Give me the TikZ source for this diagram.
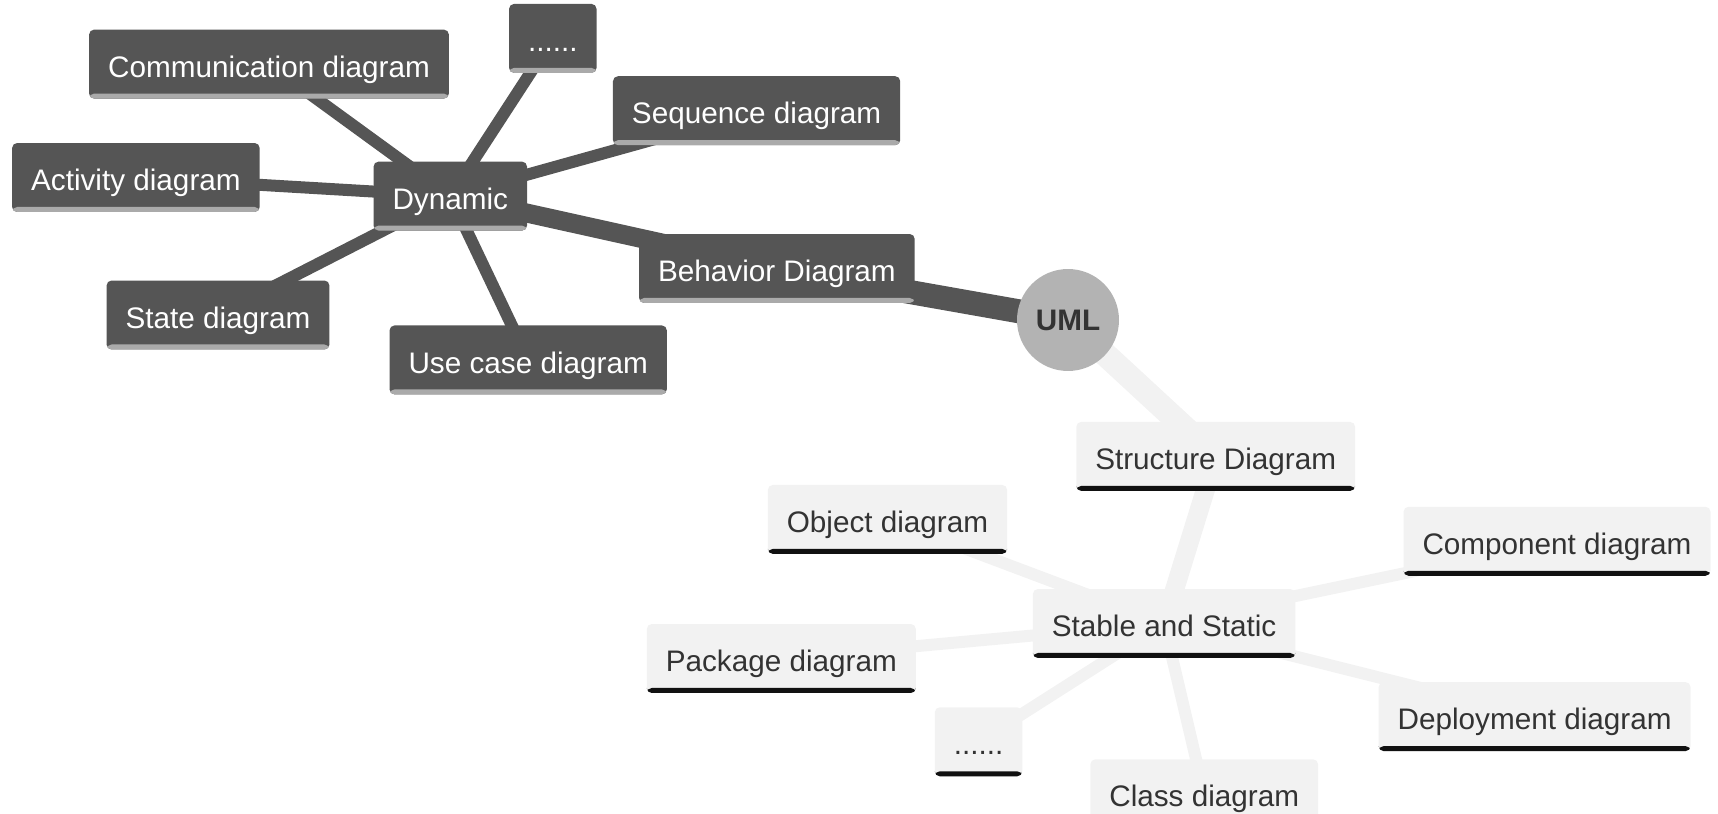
\documentclass[tikz,border=0pt]{standalone}
\usepackage{fontspec}
\setmainfont{Liberation Sans}
\usepackage{tikz}
\usetikzlibrary{backgrounds}

\definecolor{darkfill}{HTML}{555555}
\definecolor{darkbar}{HTML}{AAAAAA}
\definecolor{lightfill}{HTML}{F2F2F2}
\definecolor{lightbar}{HTML}{111111}
\definecolor{rootfill}{HTML}{B3B3B3}
\definecolor{inktext}{HTML}{333333}

\begin{document}
\begin{tikzpicture}[x=0.02cm, y=-0.02cm,
    box/.style={rectangle, rounded corners=0.1cm, minimum height=1.38cm,
        inner xsep=0.38cm, inner ysep=0pt, text height=15pt, text depth=0pt,
        font=\fontsize{16.9}{20}\selectfont,
        path picture={\fill[#1] ([yshift=0.1cm]path picture bounding box.south west)
            rectangle (path picture bounding box.south east);}},
    darkbox/.style={box=darkbar, fill=darkfill, text=white},
    lightbox/.style={box=lightbar, fill=lightfill, text=inktext},
    root/.style={circle, fill=rootfill, minimum size=2.04cm, inner sep=0pt,
        text=inktext, font=\fontsize{16.9}{20}\selectfont\bfseries},
    lvlone/.style={line width=0.48cm},
    lvltwo/.style={line width=0.38cm},
    lvlthree/.style={line width=0.24cm}]
    \useasboundingbox (0,0) rectangle (1718,814);

    % Root
    \node[root] (uml) at (1068,320) {UML};

    % Behavior branch
    \node[darkbox] (behavior) at (776.9,268.5) {Behavior Diagram};
    \node[darkbox] (dynamic) at (450.3,196.1) {Dynamic};
    \node[darkbox] (comm) at (269,64.1) {Communication diagram};
    \node[darkbox] (moredyn) at (552.8,38.4) {......};
    \node[darkbox] (sequence) at (756.6,110.7) {Sequence diagram};
    \node[darkbox] (activity) at (135.9,177.5) {Activity diagram};
    \node[darkbox] (state) at (218,315) {State diagram};
    \node[darkbox] (usecase) at (528.2,359.9) {Use case diagram};

    % Structure branch
    \node[lightbox] (structure) at (1215.7,456.4) {Structure Diagram};
    \node[lightbox] (stable) at (1164.1,623.5) {Stable and Static};
    \node[lightbox] (object) at (887.5,519.4) {Object diagram};
    \node[lightbox] (component) at (1557,541.3) {Component diagram};
    \node[lightbox] (package) at (781.3,658.5) {Package diagram};
    \node[lightbox] (deployment) at (1534.6,716.6) {Deployment diagram};
    \node[lightbox] (morestat) at (978.5,741.8) {......};
    \node[lightbox] (class) at (1204.2,793.8) {Class diagram};

    % Branches behind the nodes
    \begin{scope}[on background layer]
        \draw[darkfill, lvlone] (uml.center) -- (behavior.center);
        \draw[darkfill, lvltwo] (behavior.center) -- (dynamic.center);
        \foreach \leaf in {comm, moredyn, sequence, activity, state, usecase}
            \draw[darkfill, lvlthree] (dynamic.center) -- (\leaf.center);

        \draw[lightfill, lvlone] (uml.center) -- (structure.center);
        \draw[lightfill, lvltwo] (structure.center) -- (stable.center);
        \foreach \leaf in {object, component, package, deployment, morestat, class}
            \draw[lightfill, lvlthree] (stable.center) -- (\leaf.center);
    \end{scope}
\end{tikzpicture}
\end{document}
